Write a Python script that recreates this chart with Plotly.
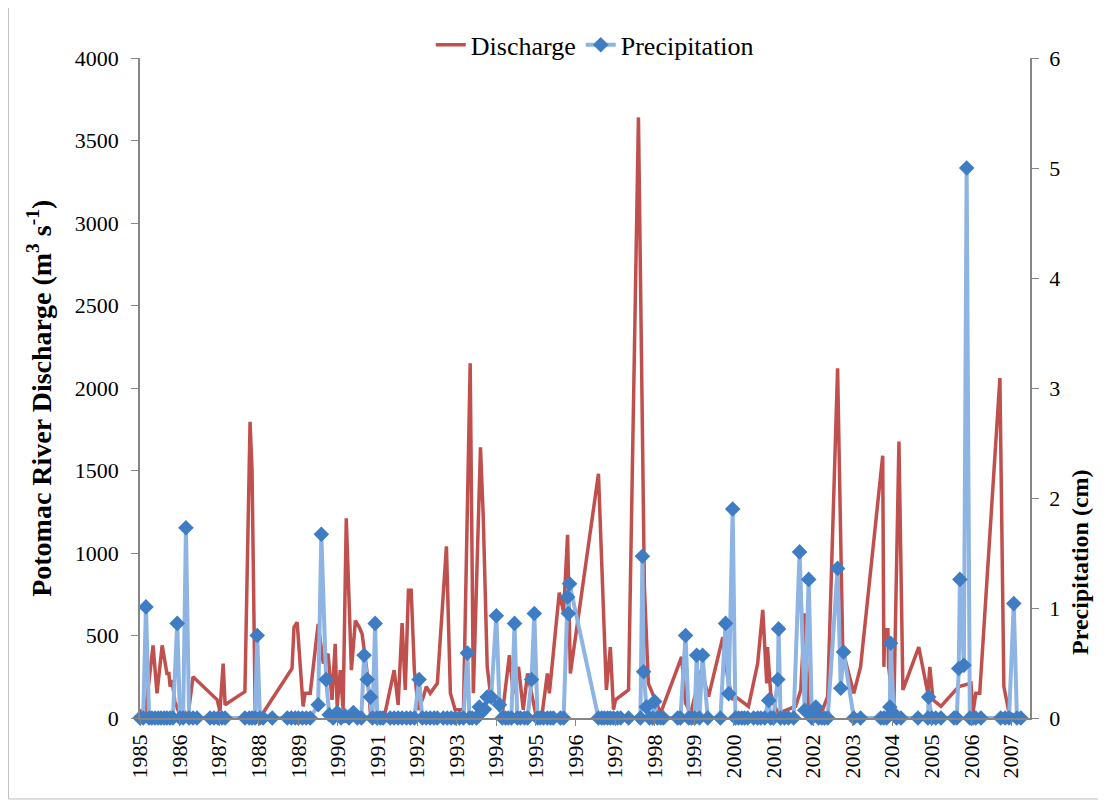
import plotly.graph_objects as go

# ---- data ----
discharge_year = [1985.00, 1985.13, 1985.33, 1985.43, 1985.56, 1985.68, 1985.73, 1985.76, 1985.81, 1985.88,
                  1985.99, 1986.11, 1986.21, 1986.34, 1986.95, 1987.02, 1987.10, 1987.15, 1987.65, 1987.78,
                  1987.83, 1987.91, 1988.08, 1988.84, 1988.89, 1988.97, 1989.05, 1989.12, 1989.17, 1989.30,
                  1989.50, 1989.63, 1989.75, 1989.85, 1989.93, 1989.98, 1990.06, 1990.13, 1990.21, 1990.34,
                  1990.44, 1990.54, 1990.61, 1990.74, 1990.82, 1991.19, 1991.42, 1991.52, 1991.62, 1991.70,
                  1991.78, 1991.85, 1991.93, 1992.03, 1992.16, 1992.23, 1992.33, 1992.51, 1992.74, 1992.84,
                  1992.96, 1993.17, 1993.34, 1993.42, 1993.60, 1993.67, 1993.77, 1993.85, 1994.15, 1994.33,
                  1994.43, 1994.56, 1994.68, 1994.79, 1994.99, 1995.16, 1995.29, 1995.34, 1995.59, 1995.70,
                  1995.80, 1995.87, 1996.58, 1996.78, 1996.88, 1996.96, 1997.01, 1997.34, 1997.59, 1997.74,
                  1997.84, 1998.02, 1998.15, 1998.68, 1998.78, 1998.91, 1999.18, 1999.36, 1999.72, 1999.84,
                  1999.97, 2000.04, 2000.37, 2000.60, 2000.73, 2000.83, 2000.85, 2000.93, 2001.03, 2001.13,
                  2001.56, 2001.69, 2001.79, 2001.89, 2002.24, 2002.37, 2002.62, 2002.75, 2003.03, 2003.20,
                  2003.76, 2003.79, 2003.81, 2003.89, 2003.91, 2004.04, 2004.17, 2004.27, 2004.67, 2004.90,
                  2004.95, 2005.03, 2005.23, 2005.68, 2005.99, 2006.04, 2006.11, 2006.21, 2006.72, 2006.82,
                  2006.95, 2007.15]
discharge = [50, 20, 440, 150, 440, 270, 270, 190, 230, 100,
             30, 40, 10, 250, 110, 40, 330, 80, 160, 1795,
             1500, 30, 20, 300, 550, 580, 310, 70, 150, 150,
             570, 330, 390, 110, 450, 70, 290, 50, 1210, 290,
             590, 550, 510, 270, 30, 30, 290, 80, 575, 170,
             775, 775, 290, 50, 130, 190, 150, 210, 1040, 150,
             50, 50, 2150, 150, 1640, 1220, 310, 150, 20, 380,
             150, 310, 50, 270, 30, 30, 270, 150, 760, 640,
             1110, 270, 1480, 170, 430, 50, 110, 170, 3640, 795,
             210, 110, 30, 370, 90, 30, 290, 130, 490, 250,
             110, 130, 70, 330, 655, 210, 430, 150, 70, 30,
             70, 170, 635, 30, 50, 130, 2120, 410, 150, 310,
             1590, 310, 535, 535, 310, 50, 1675, 170, 430, 150,
             310, 110, 70, 190, 210, 30, 150, 150, 2060, 190,
             30, 10]

precip_year = [1985.00, 1985.08, 1985.15, 1985.23, 1985.30, 1985.38, 1985.46, 1985.53, 1985.61, 1985.68,
               1985.76, 1985.83, 1985.94, 1986.01, 1986.09, 1986.16, 1986.24, 1986.34, 1986.44,
               1986.77, 1986.87, 1986.97, 1987.07, 1987.15,
               1987.65, 1987.76, 1987.83, 1987.91, 1987.96, 1988.03, 1988.11, 1988.34,
               1988.72, 1988.82, 1988.92, 1989.00, 1989.10, 1989.20, 1989.30,
               1989.50, 1989.58, 1989.70, 1989.78, 1989.88, 1989.98, 1990.08, 1990.18, 1990.28, 1990.39, 1990.49,
               1990.59, 1990.66, 1990.74, 1990.82, 1990.87, 1990.94, 1990.99, 1991.07, 1991.14,
               1991.32, 1991.42, 1991.52, 1991.62, 1991.73, 1991.83, 1991.93, 1992.05, 1992.13, 1992.23,
               1992.33, 1992.43, 1992.51,
               1992.66, 1992.76, 1992.86, 1992.96, 1993.07, 1993.17, 1993.27, 1993.32, 1993.39, 1993.50,
               1993.57, 1993.62, 1993.70, 1993.77, 1993.87, 1994.00, 1994.08, 1994.15, 1994.23, 1994.30,
               1994.38, 1994.46, 1994.53, 1994.61, 1994.71, 1994.79, 1994.89, 1994.96, 1995.04, 1995.11,
               1995.19, 1995.29, 1995.37, 1995.44, 1995.62, 1995.70, 1995.80, 1995.82, 1995.85,
               1996.58, 1996.66, 1996.73, 1996.81, 1996.88, 1996.96, 1997.06, 1997.14, 1997.34,
               1997.64, 1997.69, 1997.72, 1997.79, 1997.87, 1997.95, 1998.00, 1998.07, 1998.15, 1998.22,
               1998.58, 1998.65, 1998.78, 1998.86, 1998.93, 1999.01, 1999.06, 1999.13, 1999.21, 1999.34,
               1999.66, 1999.79, 1999.87, 1999.97, 2000.04, 2000.12, 2000.20, 2000.27, 2000.35,
               2000.50, 2000.60, 2000.68, 2000.78, 2000.88, 2000.93, 2001.00, 2001.11, 2001.13, 2001.18,
               2001.28, 2001.38, 2001.51,
               2001.66, 2001.79, 2001.89, 2001.97, 2002.07, 2002.14, 2002.22, 2002.29, 2002.37,
               2002.62, 2002.70, 2002.77, 2003.03, 2003.20,
               2003.71, 2003.79, 2003.86, 2003.94, 2003.96, 2004.04, 2004.11, 2004.22,
               2004.65, 2004.90, 2004.92, 2005.00, 2005.10, 2005.23,
               2005.56, 2005.63, 2005.68, 2005.71, 2005.81, 2005.88, 2005.96, 2006.04, 2006.11, 2006.24,
               2006.74, 2006.85, 2006.95, 2007.07, 2007.15, 2007.25]
precipitation = [0, 0, 1.01, 0, 0, 0, 0, 0, 0, 0,
                 0, 0, 0.86, 0, 0, 1.73, 0, 0, 0,
                 0, 0, 0, 0, 0,
                 0, 0, 0, 0, 0.75, 0, 0, 0,
                 0, 0, 0, 0, 0, 0, 0,
                 0.12, 1.67, 0.35, 0.03, 0, 0.05, 0, 0.02, 0, 0.05, 0,
                 0, 0.57, 0.35, 0.19, 0, 0.86, 0, 0, 0,
                 0, 0, 0, 0, 0, 0, 0, 0.35, 0, 0,
                 0, 0, 0,
                 0, 0, 0, 0, 0, 0, 0.59, 0, 0, 0,
                 0.10, 0.05, 0.08, 0.19, 0.19, 0.93, 0.12, 0, 0, 0,
                 0, 0.86, 0, 0, 0, 0, 0.35, 0.95, 0, 0,
                 0, 0, 0, 0, 0, 0, 1.10, 0.95, 1.22,
                 0, 0, 0, 0, 0, 0, 0, 0, 0,
                 0, 1.47, 0.42, 0.10, 0, 0, 0.15, 0, 0, 0,
                 0, 0, 0.75, 0, 0, 0, 0.57, 0, 0.57, 0,
                 0, 0.86, 0.22, 1.90, 0, 0, 0, 0, 0,
                 0, 0, 0, 0, 0.16, 0, 0, 0.35, 0.81, 0,
                 0, 0, 0,
                 1.51, 0.07, 1.26, 0, 0.10, 0, 0, 0, 0,
                 1.36, 0.27, 0.60, 0, 0,
                 0, 0, 0, 0.10, 0.68, 0.04, 0, 0,
                 0, 0, 0.19, 0, 0, 0,
                 0, 0, 0.45, 1.26, 0.48, 5.00, 0, 0, 0, 0,
                 0, 0, 0, 1.04, 0, 0]

year_ticks = list(range(1985, 2008))
year_labels = [str(y) for y in year_ticks]

FONT = "Liberation Serif, Times New Roman, serif"
AXIS_GRAY = "#868686"

fig = go.Figure()
fig.add_trace(go.Scatter(
    x=discharge_year, y=discharge, name="Discharge", mode="lines",
    line=dict(color="#C0504D", width=3.5), yaxis="y"))
fig.add_trace(go.Scatter(
    x=precip_year, y=precipitation, name="Precipitation", mode="lines+markers",
    line=dict(color="#8DB4E2", width=4),
    marker=dict(symbol="diamond", size=12, color="#3E7CC4", line=dict(width=0)),
    cliponaxis=False, yaxis="y2"))

# page body adds an 8px offset; plot area sits at x 140-1030, y 58-718 on the page
fig.update_layout(
    width=1098, height=794,
    paper_bgcolor="white", plot_bgcolor="white",
    margin=dict(l=132, r=76, t=50, b=84, autoexpand=False),
    font=dict(family=FONT, size=22, color="#000000"),
    showlegend=True,
    legend=dict(orientation="h", x=0.511, xanchor="center", y=1.02, yanchor="middle",
                font=dict(family=FONT, size=26), bgcolor="rgba(0,0,0,0)",
                itemwidth=30, tracegroupgap=0),
    xaxis=dict(range=[1985, 2007.48], tickmode="array", tickvals=year_ticks, ticktext=year_labels,
               tickangle=-90, showgrid=False, zeroline=False, showline=True, linecolor=AXIS_GRAY,
               linewidth=1.5, ticks="outside", ticklen=6, tickcolor=AXIS_GRAY,
               tickfont=dict(family=FONT, size=22)),
    yaxis=dict(range=[0, 4000], tickvals=[0, 500, 1000, 1500, 2000, 2500, 3000, 3500, 4000],
               showgrid=False, zeroline=False, showline=True, linecolor=AXIS_GRAY, linewidth=1.5,
               ticks="outside", ticklen=7, tickcolor=AXIS_GRAY, ticklabelstandoff=8,
               tickfont=dict(family=FONT, size=22)),
    yaxis2=dict(range=[0, 6], tickvals=[0, 1, 2, 3, 4, 5, 6], overlaying="y", side="right",
                showgrid=False, zeroline=False, showline=True, linecolor=AXIS_GRAY, linewidth=1.5,
                ticks="outside", ticklen=7, tickcolor=AXIS_GRAY, ticklabelstandoff=6,
                tickfont=dict(family=FONT, size=22)),
)

# axis titles
fig.add_annotation(text="<b>Potomac River Discharge (m<sup>3</sup> s<sup>-1</sup>)</b>",
                   xref="paper", yref="paper", x=-0.1124, y=0.485, textangle=-90,
                   showarrow=False, xanchor="center", yanchor="middle",
                   font=dict(family=FONT, size=28, color="#000000"))
fig.add_annotation(text="<b>Precipitation (cm)</b>",
                   xref="paper", yref="paper", x=1.057, y=0.236, textangle=-90,
                   showarrow=False, xanchor="center", yanchor="middle",
                   font=dict(family=FONT, size=24, color="#000000"))

# outer chart frame
fig.add_shape(type="rect", xref="paper", yref="paper",
              x0=-0.1478, x1=1.0787, y0=-0.1227, y1=1.083,
              line=dict(color="#BFBFBF", width=1), fillcolor="rgba(0,0,0,0)", layer="below")

fig.write_html("out.html")
